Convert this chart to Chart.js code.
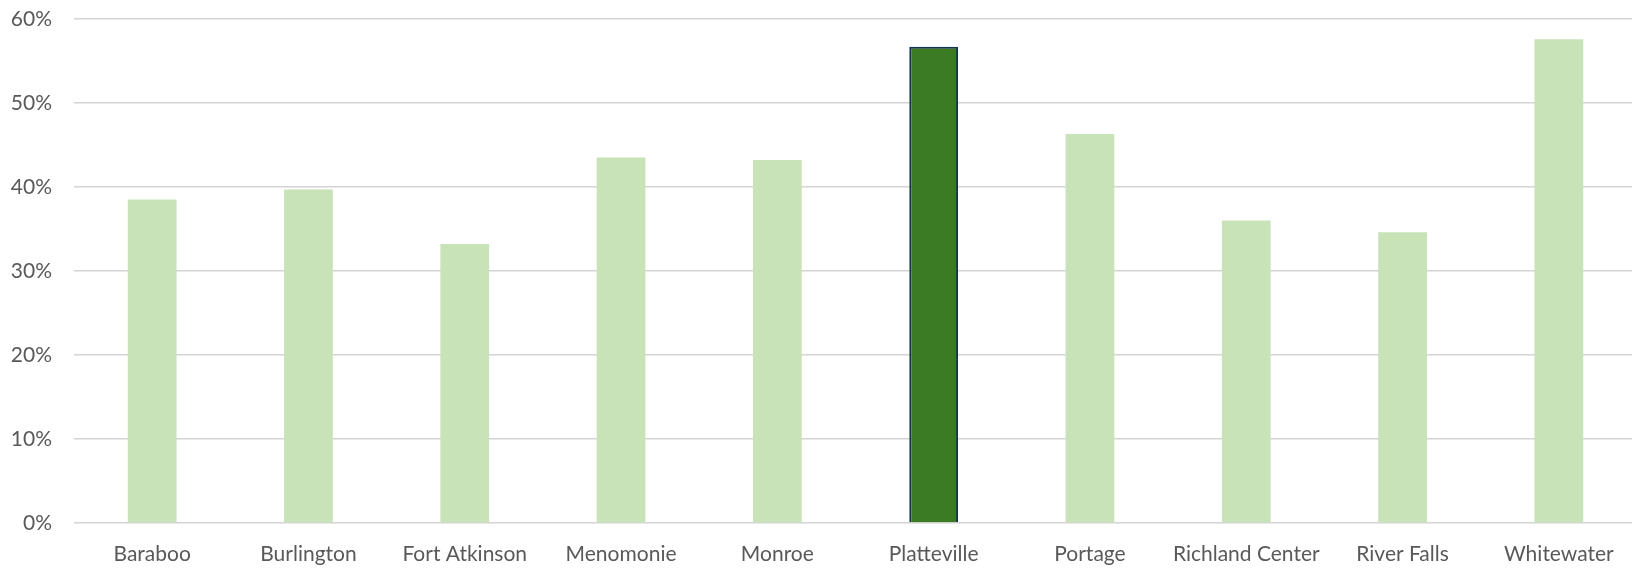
<!DOCTYPE html>
<html>
<head>
<meta charset="utf-8">
<script src="https://cdn.jsdelivr.net/npm/chart.js@4"></script>
<style>
  html, body { margin: 0; padding: 0; background: #ffffff; }
  #wrap { width: 1632px; height: 569px; overflow: hidden; }
</style>
</head>
<body>
<div id="wrap"><canvas id="chart" width="1632" height="569"></canvas></div>
<script>
// Share of respondents by city (percent)
const cities = ['Baraboo', 'Burlington', 'Fort Atkinson', 'Menomonie', 'Monroe',
                'Platteville', 'Portage', 'Richland Center', 'River Falls', 'Whitewater'];
const shares = [38.5, 39.7, 33.2, 43.5, 43.2, 56.7, 46.3, 36.0, 34.6, 57.6];
const yTicks = [0, 10, 20, 30, 40, 50, 60];
const highlighted = 'Platteville';

const baseFill = '#c9e3b9';
const focusFill = '#3b7b24';
const focusEdge = '#14364a';
const textColor = '#595959';
const font = { family: "Lato, 'Liberation Sans', sans-serif", size: 21 };

// Let the plot run a few pixels past the right edge of the canvas.
const bleedRight = {
  id: 'bleedRight',
  afterLayout(chart) {
    const ext = 5;
    chart.chartArea.right += ext;
    chart.chartArea.width += ext;
    const x = chart.scales.x;
    x.right += ext;
    x.width += ext;
    x.configure();
  }
};

new Chart(document.getElementById('chart'), {
  type: 'bar',
  data: {
    labels: cities,
    datasets: [{
      data: shares,
      backgroundColor: ctx => cities[ctx.dataIndex] === highlighted ? focusFill : baseFill,
      borderColor: ctx => cities[ctx.dataIndex] === highlighted ? focusEdge : 'rgba(0,0,0,0)',
      borderWidth: ctx => cities[ctx.dataIndex] === highlighted ? 2 : 0,
      borderSkipped: 'start',
      categoryPercentage: 1,
      barPercentage: 0.312
    }]
  },
  plugins: [bleedRight],
  options: {
    responsive: false,
    animation: false,
    events: [],
    layout: { padding: { top: 19, right: 0, left: 0, bottom: 0 } },
    plugins: { legend: { display: false }, tooltip: { enabled: false } },
    scales: {
      x: {
        grid: { display: false, drawTicks: false },
        border: { display: false },
        ticks: { color: textColor, font: font, padding: 19, maxRotation: 0, autoSkip: false },
        afterFit: s => { s.height = 46; }
      },
      y: {
        min: 0,
        max: 60,
        afterBuildTicks: s => { s.ticks = yTicks.map(v => ({ value: v })); },
        grid: { color: '#d4d4d4', lineWidth: 1.4, drawTicks: false },
        border: { display: false },
        ticks: { color: textColor, font: font, padding: 22, callback: v => v + '%' },
        afterFit: s => { s.width = 74; s.paddingTop = 0; s.paddingBottom = 0; }
      }
    }
  }
});
</script>
</body>
</html>
